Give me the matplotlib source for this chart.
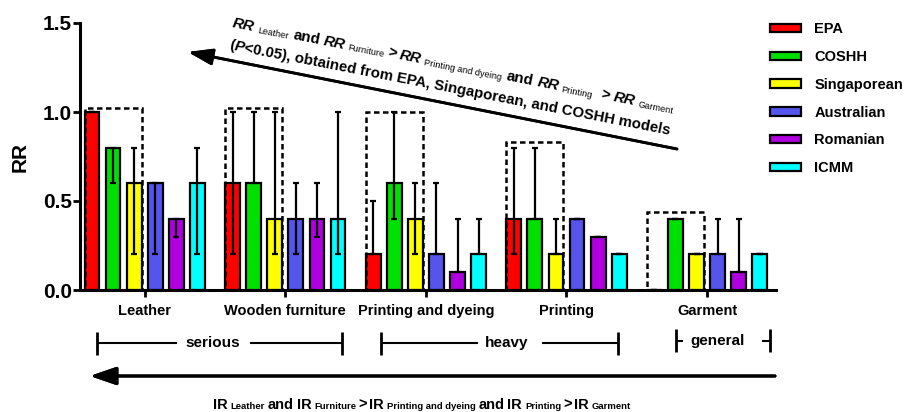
import numpy as np
import matplotlib
matplotlib.use('Agg')
import matplotlib.pyplot as plt
from matplotlib.patches import Rectangle, Patch
from matplotlib.lines import Line2D
from matplotlib.transforms import IdentityTransform

plt.rcParams['font.family'] = ['Liberation Sans', 'DejaVu Sans']
plt.rcParams['font.weight'] = 'bold'

# data
categories = ['Leather', 'Wooden furniture', 'Printing and dyeing', 'Printing', 'Garment']
models = ['EPA', 'COSHH', 'Singaporean', 'Australian', 'Romanian', 'ICMM']
colors = ['#FF0000', '#00E000', '#FFFF00', '#5555EE', '#B000E0', '#00FFFF']

epa_rr = [1.0, 0.6, 0.2, 0.4, 0.0]
epa_lo = [1.0, 0.2, 0.2, 0.2, 0.0]
epa_hi = [1.0, 1.0, 0.5, 0.8, 0.0]
coshh_rr = [0.8, 0.6, 0.6, 0.4, 0.4]
coshh_lo = [0.6, 0.6, 0.4, 0.4, 0.4]
coshh_hi = [0.8, 1.0, 1.0, 0.8, 0.4]
sing_rr = [0.6, 0.4, 0.4, 0.2, 0.2]
sing_lo = [0.2, 0.2, 0.2, 0.2, 0.2]
sing_hi = [0.8, 1.0, 0.6, 0.4, 0.2]
aus_rr = [0.6, 0.4, 0.2, 0.4, 0.2]
aus_lo = [0.2, 0.2, 0.2, 0.4, 0.2]
aus_hi = [0.6, 0.6, 0.6, 0.4, 0.4]
rom_rr = [0.4, 0.4, 0.1, 0.3, 0.1]
rom_lo = [0.3, 0.3, 0.1, 0.3, 0.1]
rom_hi = [0.4, 0.6, 0.4, 0.3, 0.4]
icmm_rr = [0.6, 0.4, 0.2, 0.2, 0.2]
icmm_lo = [0.2, 0.2, 0.2, 0.2, 0.2]
icmm_hi = [0.8, 1.0, 0.4, 0.2, 0.2]

# dashed boxes around EPA/COSHH/Singaporean
box_tops = [1.02, 1.02, 1.0, 0.83, 0.44]

rr_all = [epa_rr, coshh_rr, sing_rr, aus_rr, rom_rr, icmm_rr]
lo_all = [epa_lo, coshh_lo, sing_lo, aus_lo, rom_lo, icmm_lo]
hi_all = [epa_hi, coshh_hi, sing_hi, aus_hi, rom_hi, icmm_hi]

W, H = 906, 412
fig = plt.figure(figsize=(W / 100, H / 100), dpi=100)
ax = fig.add_axes([80 / W, 1 - 290 / H, 696 / W, 267 / H])

x = np.arange(len(categories))
step = 0.15
bw = 0.105
for i, m in enumerate(models):
    xi = x + (i - 2.5) * step
    rr = np.array(rr_all[i])
    ax.bar(xi, rr, width=bw, color=colors[i], edgecolor='black', linewidth=1.6, zorder=2)
    yerr = [rr - np.array(lo_all[i]), np.array(hi_all[i]) - rr]
    ax.errorbar(xi, rr, yerr=yerr, fmt='none', ecolor='black', elinewidth=1.6,
                capsize=2.2, capthick=1.6, zorder=3)

for k, top in enumerate(box_tops):
    left = x[k] - 2.5 * step - bw / 2
    right = x[k] - 0.5 * step + bw / 2
    ax.add_patch(Rectangle((left, 0), right - left, top, fill=False, edgecolor='black',
                           linewidth=1.8, linestyle=(0, (2.2, 1.4)), zorder=4, clip_on=False))

ax.set_xlim(-0.46, 4.49)
ax.set_ylim(0, 1.5)
ax.set_yticks([0.0, 0.5, 1.0, 1.5])
ax.set_yticklabels(['0.0', '0.5', '1.0', '1.5'])
ax.set_xticks(x)
ax.set_xticklabels(categories, fontsize=10.5, fontweight='bold')
ax.tick_params(axis='y', labelsize=15, width=2, length=5, pad=1)
ax.tick_params(axis='x', width=2, length=5, pad=5)
for lab in ax.get_yticklabels():
    lab.set_fontweight('bold')
ax.set_ylabel('RR', fontsize=15, fontweight='bold', labelpad=9)
for s in ['top', 'right']:
    ax.spines[s].set_visible(False)
for s in ['left', 'bottom']:
    ax.spines[s].set_linewidth(2.2)
    ax.spines[s].set_zorder(5)

handles = [Patch(facecolor=c, edgecolor='black', linewidth=1.6) for c in colors]
fig.legend(handles, models, loc='upper left', bbox_to_anchor=(770 / W, 1 - 22 / H),
           frameon=False, prop={'weight': 'bold', 'size': 10.5},
           handlelength=2.1, handleheight=0.5, handletextpad=0.95, labelspacing=0.95,
           borderpad=0, borderaxespad=0)

ident = IdentityTransform()


def P(px, py):
    return px, H - py


def line(xs, ys, lw):
    fig.add_artist(Line2D(xs, [H - v for v in ys], color='black', linewidth=lw,
                          transform=ident, solid_capstyle='butt'))


def label(px, py, s, size=11):
    fig.text(px, H - py, s, transform=ident, ha='center', va='center',
             fontsize=size, fontweight='bold')


def ann_arrow(start, end, lw, hl, hw):
    fig.add_artist(plt.annotate('', xy=P(*end), xycoords='figure pixels',
                                xytext=P(*start), textcoords='figure pixels',
                                arrowprops=dict(arrowstyle='-|>,head_length=%s,head_width=%s' % (hl, hw),
                                                color='black', lw=lw, shrinkA=0, shrinkB=0,
                                                mutation_scale=10)))


fig.canvas.draw()
renderer = fig.canvas.get_renderer()


def rich(x0, y0, pieces, angle=0.0):
    a = np.deg2rad(angle)
    cx, cy = P(x0, y0)
    for s, size, weight, style, gap, drop in pieces:
        kw = dict(fontsize=size, fontweight=weight, fontstyle=style)
        tmp = fig.text(0, 0, s, transform=ident, **kw)
        w = tmp.get_window_extent(renderer).width
        tmp.remove()
        ox = cx + drop * np.sin(a)
        oy = cy - drop * np.cos(a)
        fig.text(ox, oy, s, transform=ident, rotation=angle, rotation_mode='anchor',
                 ha='left', va='baseline', **kw)
        cx += (w + gap) * np.cos(a)
        cy += (w + gap) * np.sin(a)


# brackets under the categories
yb = 343
line([97, 177], [yb, yb], 1.5)
line([250, 342], [yb, yb], 1.5)
line([97, 97], [332, 355], 2)
line([342, 342], [332, 355], 2)
label(213, yb, 'serious')
line([381, 478], [yb, yb], 1.5)
line([542, 618], [yb, yb], 1.5)
line([381, 381], [332, 355], 2)
line([618, 618], [332, 355], 2)
label(507, yb, 'heavy')
line([676, 683], [341, 341], 1.5)
line([762, 770], [341, 341], 1.5)
line([676, 676], [329, 352], 2)
line([770, 770], [329, 352], 2)
label(718, 341, 'general')

# arrows
ann_arrow((775, 376), (90, 376), 2.2, 1.6, 0.55)
ann_arrow((677, 149), (188, 52), 2.0, 1.5, 0.5)

B, S = 11, 6.6
rich(232, 27, [
    ('RR', B, 'bold', 'italic', 4, 0), ('Leather', S, 'normal', 'normal', 4, 1),
    ('and', B, 'bold', 'normal', 4, 0), ('RR', B, 'bold', 'italic', 3, 0),
    ('Furniture', S, 'normal', 'normal', 3, 1), ('>', B, 'bold', 'normal', 3, 0),
    ('RR', B, 'bold', 'italic', 4, 0), ('Printing and dyeing', S, 'normal', 'normal', 4, 1),
    ('and', B, 'bold', 'normal', 4, 0), ('RR', B, 'bold', 'italic', 3, 0),
    ('Printing', S, 'normal', 'normal', 9, 1), ('>', B, 'bold', 'normal', 3, 0),
    ('RR', B, 'bold', 'italic', 4, 0), ('Garment', S, 'normal', 'normal', 0, 1),
], angle=-11)
rich(229, 49, [
    ('(', 10.8, 'bold', 'normal', 0, 0), ('P', 10.8, 'bold', 'italic', 0, 0),
    ('<0.05), obtained from EPA, Singaporean, and COSHH models', 10.8, 'bold', 'normal', 0, 0),
], angle=-11)

b2, s2 = 10.5, 6.8
rich(213, 409, [
    ('IR', b2, 'bold', 'normal', 3, 0), ('Leather', s2, 'bold', 'normal', 3, 0),
    ('and', b2, 'bold', 'normal', 3, 0), ('IR', b2, 'bold', 'normal', 3, 0),
    ('Furniture', s2, 'bold', 'normal', 2, 0), ('>', b2, 'bold', 'normal', 2, 0),
    ('IR', b2, 'bold', 'normal', 3, 0), ('Printing and dyeing', s2, 'bold', 'normal', 3, 0),
    ('and', b2, 'bold', 'normal', 3, 0), ('IR', b2, 'bold', 'normal', 3, 0),
    ('Printing', s2, 'bold', 'normal', 2, 0), ('>', b2, 'bold', 'normal', 2, 0),
    ('IR', b2, 'bold', 'normal', 3, 0), ('Garment', s2, 'bold', 'normal', 0, 0),
])

fig.savefig('out.png', dpi=100)
